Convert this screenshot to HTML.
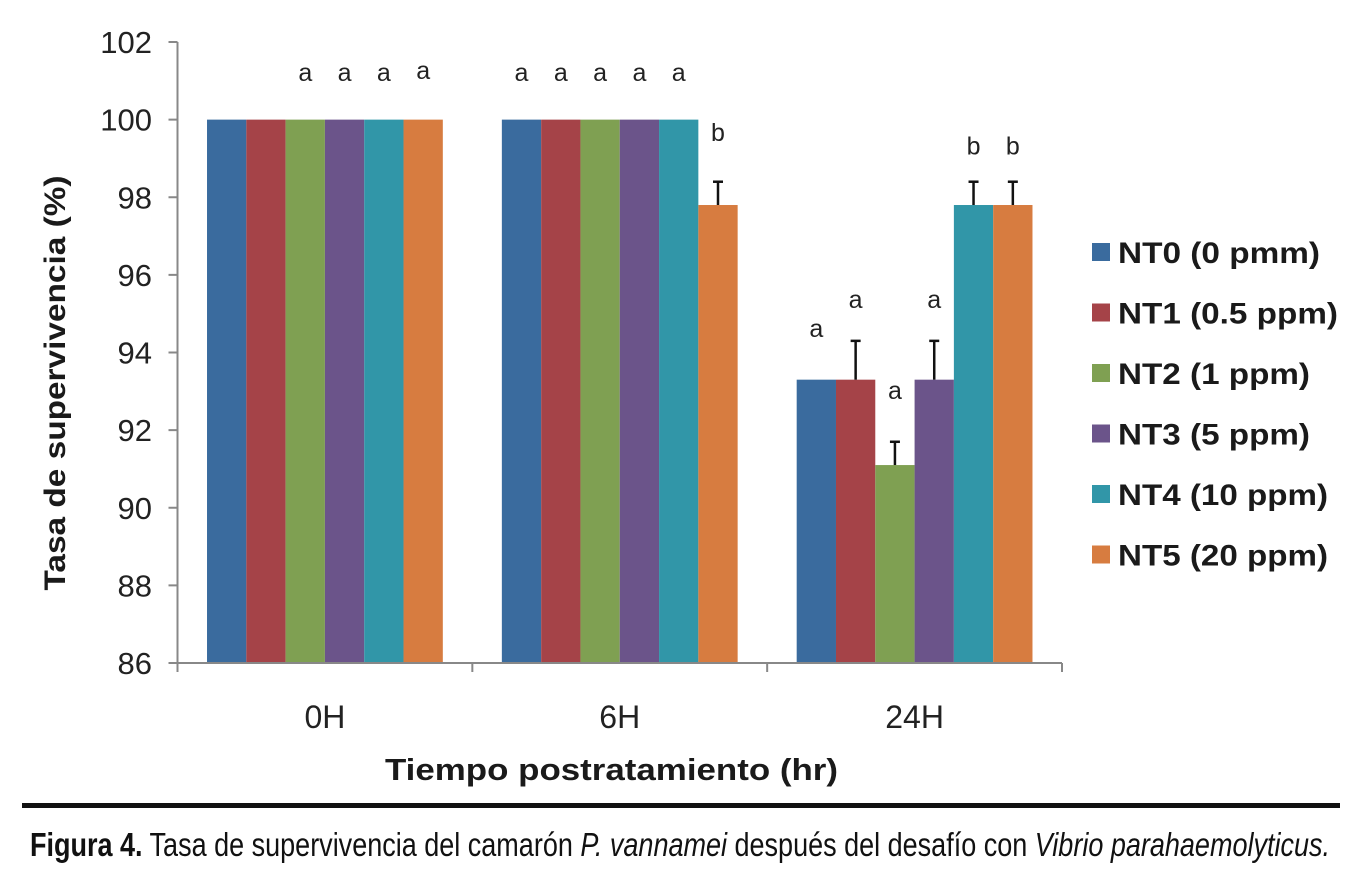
<!DOCTYPE html>
<html><head><meta charset="utf-8">
<style>
html,body{margin:0;padding:0;background:#fff;}
svg{display:block;font-family:"Liberation Sans",sans-serif;}
</style></head>
<body>
<svg id="chart" width="1358" height="892" viewBox="0 0 1358 892" xmlns="http://www.w3.org/2000/svg">
<g id="plot"></g>
<text transform="translate(65,383) rotate(-90)" text-anchor="middle" font-size="30" font-weight="bold" fill="#1a1a1a" textLength="415" lengthAdjust="spacingAndGlyphs">Tasa de supervivencia  (%)</text>
<text x="385" y="780" font-size="31" font-weight="bold" fill="#1a1a1a" textLength="453" lengthAdjust="spacingAndGlyphs">Tiempo postratamiento (hr)</text>
<g id="legend"></g>
<rect x="22" y="803" width="1318" height="5" fill="#111"/>
<text x="30" y="856" font-size="33" fill="#111" textLength="1300" lengthAdjust="spacingAndGlyphs"><tspan font-weight="bold">Figura 4.</tspan> Tasa de supervivencia del camarón <tspan font-style="italic">P. vannamei</tspan> después del desafío con <tspan font-style="italic">Vibrio parahaemolyticus.</tspan></text>
</svg>
<script>
const categories = ["0H","6H","24H"];
const seriesNames = ["NT0 (0 pmm)","NT1 (0.5 ppm)","NT2 (1 ppm)","NT3 (5 ppm)","NT4 (10 ppm)","NT5 (20 ppm)"];
const colors = ["#3a6b9e","#a54348","#7fa052","#6b548a","#3196a8","#d77c40"];
const nt0 = [100,100,93.3];
const nt1 = [100,100,93.3];
const nt2 = [100,100,91.1];
const nt3 = [100,100,93.3];
const nt4 = [100,100,97.8];
const nt5 = [100,97.8,97.8];
const err0 = [0,0,0];
const err1 = [0,0,1.0];
const err2 = [0,0,0.6];
const err3 = [0,0,1.0];
const err4 = [0,0,0.6];
const err5 = [0,0.6,0.6];
const letters0 = ["","a","a"];
const letters1 = ["","a","a"];
const letters2 = ["a","a","a"];
const letters3 = ["a","a","a"];
const letters4 = ["a","a","b"];
const letters5 = ["a","b","b"];
const letterPos0 = [0,101.0,94.4];
const letterPos1 = [0,101.0,95.15];
const letterPos2 = [101.0,101.0,92.8];
const letterPos3 = [101.0,101.0,95.15];
const letterPos4 = [101.0,101.0,99.1];
const letterPos5 = [101.05,99.45,99.1];
const yTicks = [86,88,90,92,94,96,98,100,102];
const legendWidths = [202,220,192,192,210,210];

const values=[nt0,nt1,nt2,nt3,nt4,nt5];
const errs=[err0,err1,err2,err3,err4,err5];
const letters=[letters0,letters1,letters2,letters3,letters4,letters5];
const letterPos=[letterPos0,letterPos1,letterPos2,letterPos3,letterPos4,letterPos5];

const NS="http://www.w3.org/2000/svg";
const x0=177.5,x1=1062,yTop=42,yBot=663,yMin=86,yMax=102;
const band=(x1-x0)/categories.length;
const barW=39.3;
function y(v){return yBot-(v-yMin)/(yMax-yMin)*(yBot-yTop);}
function bx(ci,si){return x0+ci*band+(band-barW*seriesNames.length)/2+si*barW;}
function mk(tag,attrs,parent){const e=document.createElementNS(NS,tag);for(const k in attrs)e.setAttribute(k,attrs[k]);parent.appendChild(e);return e;}
const plot=document.getElementById('plot');

categories.forEach((c,ci)=>{
  seriesNames.forEach((s,si)=>{
    const v=values[si][ci];
    const r=mk('rect',{x:bx(ci,si),y:y(v),width:barW,height:yBot-y(v),fill:colors[si]},plot);
    
    
    const e=errs[si][ci];
    if(e>0){
      const cx=bx(ci,si)+barW/2;
      const g=mk('g',{stroke:'#111','stroke-width':2.5},plot);
      
      
      mk('line',{x1:cx,x2:cx,y1:y(v),y2:y(v+e)},g);
      mk('line',{x1:cx-5,x2:cx+5,y1:y(v+e),y2:y(v+e)},g);
    }
    const L=letters[si][ci];
    if(L){
      const t=mk('text',{x:bx(ci,si)+barW/2,y:y(letterPos[si][ci]),'text-anchor':'middle','font-size':25,fill:'#222'},plot);
      
      
      t.textContent=L;
    }
  });
  const t=mk('text',{x:x0+ci*band+band/2,y:728,'text-anchor':'middle','font-size':32,fill:'#222'},plot);
  
  
  t.textContent=c;
});
const ya=mk('line',{x1:x0,x2:x0,y1:yTop,y2:yBot,stroke:'#888','stroke-width':2},plot);


const xa=mk('line',{x1:x0,x2:x1,y1:yBot,y2:yBot,stroke:'#888','stroke-width':2},plot);


for(let i=0;i<=categories.length;i++){
  const xx=x0+i*band;
  const tk=mk('line',{x1:xx,x2:xx,y1:yBot,y2:yBot+9,stroke:'#888','stroke-width':2},plot);
  
  
}
yTicks.forEach(v=>{
  const tk=mk('line',{x1:x0-9,x2:x0,y1:y(v),y2:y(v),stroke:'#888','stroke-width':2},plot);
  
  
  const t=mk('text',{x:152,y:y(v)+11,'text-anchor':'end','font-size':31,fill:'#222'},plot);
  
  
  t.textContent=v;
});
const leg=document.getElementById('legend');
seriesNames.forEach((s,si)=>{
  const yy=252+si*60.5;
  const g=mk('g',{},leg);
  
  
  mk('rect',{x:1092,y:yy-9,width:18,height:18,fill:colors[si]},g);
  const t=mk('text',{x:1118,y:yy+11,'font-size':30,'font-weight':'bold',fill:'#1a1a1a',textLength:legendWidths[si],lengthAdjust:'spacingAndGlyphs'},g);
  t.textContent=s;
});
</script>
</body></html>
